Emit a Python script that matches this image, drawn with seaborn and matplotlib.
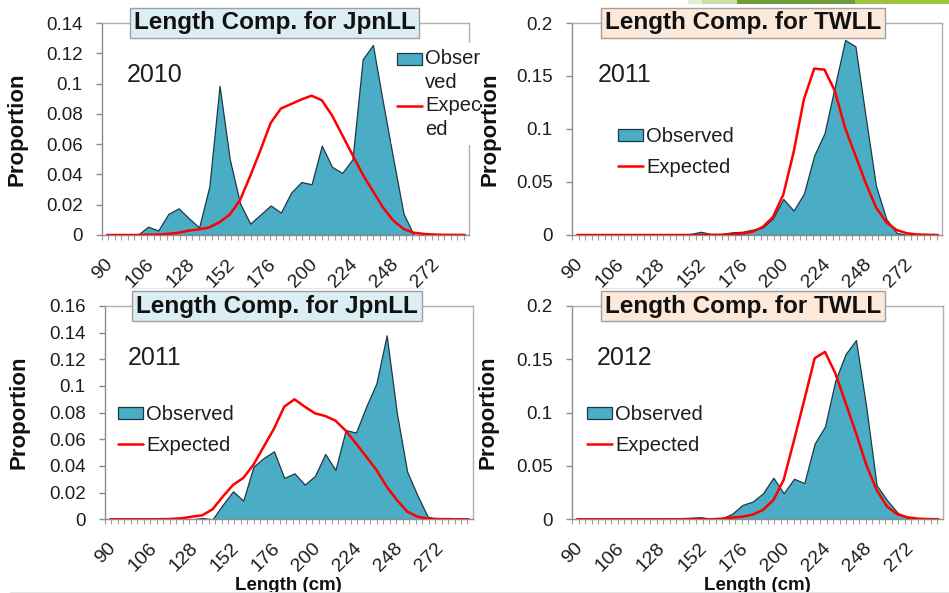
import matplotlib
matplotlib.use("Agg")
import numpy as np
import pandas as pd
import seaborn as sns
import matplotlib.pyplot as plt
from matplotlib.patches import Patch, Rectangle
from matplotlib.lines import Line2D
from matplotlib.ticker import FuncFormatter
from matplotlib.transforms import ScaledTranslation
from matplotlib.legend_handler import HandlerBase

# ---- data: proportion at length per bin (36 bins), tick labels every 4th bin ----
tick_labels = ["90", "106", "128", "152", "176", "200", "224", "248", "272"]
label_step = 4

jpn_2010_obs = [0, 0, 0, 0, 0.0055, 0.003, 0.014, 0.0176, 0.011, 0.005,
                0.032, 0.0985, 0.050, 0.021, 0.0075, 0.0135, 0.0195, 0.0148, 0.028, 0.035,
                0.0335, 0.059, 0.045, 0.041, 0.050, 0.116, 0.1255, 0.087, 0.050, 0.014,
                0, 0, 0, 0, 0, 0]
jpn_2010_exp = [0, 0, 0, 0, 0.0002, 0.0003, 0.0008, 0.0015, 0.0029, 0.0037,
                0.005, 0.0085, 0.0135, 0.023, 0.039, 0.056, 0.074, 0.0835, 0.0865, 0.0895,
                0.092, 0.089, 0.079, 0.066, 0.053, 0.040, 0.029, 0.018, 0.0095, 0.004,
                0.0015, 0.0007, 0.0003, 0.0001, 0.0001, 0]

tw_2011_obs = [0, 0, 0, 0, 0, 0, 0, 0, 0, 0,
               0.0006, 0.001, 0.003, 0.001, 0.001, 0.0025, 0.003, 0.005, 0.007, 0.0157,
               0.034, 0.023, 0.039, 0.075, 0.096, 0.140, 0.184, 0.178, 0.111, 0.046,
               0.015, 0.002, 0, 0, 0, 0]
tw_2011_exp = [0, 0, 0, 0, 0, 0, 0, 0, 0, 0,
               0, 0, 0, 0, 0.0002, 0.0006, 0.0015, 0.003, 0.0075, 0.017,
               0.038, 0.078, 0.128, 0.157, 0.156, 0.136, 0.101, 0.075, 0.049, 0.026,
               0.012, 0.0047, 0.0016, 0.0005, 0.0002, 0]

jpn_2011_obs = [0, 0, 0, 0, 0, 0.001, 0, 0, 0, 0.001,
                0, 0.011, 0.021, 0.014, 0.0395, 0.046, 0.051, 0.031, 0.0345, 0.026,
                0.0325, 0.049, 0.037, 0.067, 0.065, 0.0845, 0.102, 0.138, 0.0795, 0.0358,
                0.018, 0.002, 0, 0.001, 0, 0]
jpn_2011_exp = [0, 0, 0, 0, 0, 0, 0.0003, 0.0008, 0.002, 0.003,
                0.0075, 0.017, 0.0258, 0.031, 0.041, 0.0545, 0.068, 0.0845, 0.090, 0.0845,
                0.0795, 0.0775, 0.074, 0.0665, 0.057, 0.047, 0.037, 0.0245, 0.0145, 0.0058,
                0.002, 0.0005, 0.0002, 0.0001, 0, 0]

tw_2012_obs = [0, 0, 0, 0, 0, 0, 0, 0, 0, 0.0003,
               0.001, 0.0015, 0.002, 0.0003, 0.001, 0.005, 0.0134, 0.0166, 0.0244, 0.039,
               0.0244, 0.038, 0.034, 0.071, 0.087, 0.130, 0.155, 0.168, 0.105, 0.032,
               0.018, 0.0065, 0.001, 0, 0, 0]
tw_2012_exp = [0, 0, 0, 0, 0, 0, 0, 0, 0, 0,
               0, 0, 0, 0, 0.0006, 0.0016, 0.0025, 0.0044, 0.0088, 0.018,
               0.037, 0.074, 0.112, 0.151, 0.157, 0.137, 0.109, 0.081, 0.051, 0.0275,
               0.012, 0.0047, 0.0019, 0.0006, 0.0002, 0]

AREA = "#4BACC6"
EDGE = "#1d3a44"
RED = "#FF0000"
AXIS_GREY = "#8c8c8c"
FRAME_GREY = "#b0b0b0"
BLUE_BOX = "#DAEEF3"
PEACH_BOX = "#FDE9D9"
TEXT = "#1e1e1e"

sns.set_theme(style="white")
plt.rcParams["font.family"] = ["Liberation Sans", "DejaVu Sans"]

fig = plt.figure(figsize=(9.49, 5.93), dpi=100)
fig.patch.set_facecolor("white")

W, H = 949.0, 593.0


def px_axes(left, top, right, bottom):
    return fig.add_axes([left / W, 1 - bottom / H, (right - left) / W, (bottom - top) / H])


class RaisedHandle(HandlerBase):
    """Legend key drawn level with the first line of a wrapped label."""

    def __init__(self, kind, raise_pt):
        super().__init__()
        self.kind = kind
        self.raise_pt = raise_pt

    def create_artists(self, legend, orig_handle, xdescent, ydescent,
                       width, height, fontsize, trans):
        if self.kind == "patch":
            art = Rectangle((-xdescent, -ydescent + self.raise_pt), width, height,
                            facecolor=orig_handle.get_facecolor(),
                            edgecolor=orig_handle.get_edgecolor(),
                            linewidth=orig_handle.get_linewidth(), transform=trans)
        else:
            y = height / 2 - ydescent + self.raise_pt
            art = Line2D([-xdescent, -xdescent + width], [y, y],
                         color=orig_handle.get_color(),
                         linewidth=orig_handle.get_linewidth(), transform=trans)
        return [art]


panels = [
    dict(rect=(102, 23, 469, 235), obs=jpn_2010_obs, exp=jpn_2010_exp, ymax=0.14, ystep=0.02,
         title="Length Comp. for JpnLL", box=BLUE_BOX, tx=0.47, year="2010", yx=0.068,
         ylab_x=-0.203, legend="side", xlabel=False),
    dict(rect=(572, 23, 942, 235), obs=tw_2011_obs, exp=tw_2011_exp, ymax=0.2, ystep=0.05,
         title="Length Comp. for TWLL", box=PEACH_BOX, tx=0.462, year="2011", yx=0.07,
         ylab_x=-0.192, legend=(0.124, 0.51), xlabel=False),
    dict(rect=(105, 306, 472.7, 519.3), obs=jpn_2011_obs, exp=jpn_2011_exp, ymax=0.16, ystep=0.02,
         title="Length Comp. for JpnLL", box=BLUE_BOX, tx=0.468, year="2011", yx=0.0625,
         ylab_x=-0.204, legend=(0.035, 0.535), xlabel=True),
    dict(rect=(572, 306, 942.7, 519.3), obs=tw_2012_obs, exp=tw_2012_exp, ymax=0.2, ystep=0.05,
         title="Length Comp. for TWLL", box=PEACH_BOX, tx=0.462, year="2012", yx=0.068,
         ylab_x=-0.197, legend=(0.04, 0.535), xlabel=True),
]

fmt = FuncFormatter(lambda v, _: f"{round(v, 4):g}")
label_shift = ScaledTranslation(3 / 100, 0, fig.dpi_scale_trans)

for p in panels:
    ax = px_axes(*p["rect"])
    df = pd.DataFrame({"bin": np.arange(len(p["obs"])),
                       "Observed": p["obs"], "Expected": p["exp"]})

    ax.fill_between(df["bin"], df["Observed"], 0, facecolor=AREA, edgecolor=EDGE,
                    linewidth=0.9, zorder=2)
    sns.lineplot(data=df, x="bin", y="Expected", color=RED, linewidth=1.8,
                 ax=ax, zorder=3, legend=False)

    n = len(df)
    ax.set_xlim(-0.5, n - 0.6)
    ax.set_ylim(0, p["ymax"])
    ax.set_yticks(np.arange(0, p["ymax"] + 1e-9, p["ystep"]))
    ax.yaxis.set_major_formatter(fmt)

    ax.set_xticks(np.arange(0, n, label_step)[:len(tick_labels)])
    ax.set_xticklabels(tick_labels)
    ax.set_xticks(np.arange(-0.5, n - 0.6, 0.632), minor=True)

    for side, sp in ax.spines.items():
        sp.set_visible(True)
        sp.set_linewidth(1.0)
        sp.set_color(AXIS_GREY if side in ("left", "bottom") else FRAME_GREY)

    ax.tick_params(axis="y", which="major", left=True, length=4, width=1,
                   color=AXIS_GREY, pad=10, labelsize=13.5, labelcolor=TEXT)
    ax.tick_params(axis="x", which="major", bottom=True, length=0, pad=19,
                   labelsize=14, labelcolor=TEXT)
    ax.tick_params(axis="x", which="minor", bottom=True, length=3.5, width=0.8,
                   color="#a0a0a0")
    for lab in ax.get_xticklabels():
        lab.set_rotation(45)
        lab.set_ha("right")
        lab.set_va("center")
        lab.set_rotation_mode("anchor")
        lab.set_transform(lab.get_transform() + label_shift)

    ax.set_ylabel("Proportion", fontsize=16, fontweight="bold", color="#111111")
    ax.yaxis.set_label_coords(p["ylab_x"], 0.5)
    if p["xlabel"]:
        ax.set_xlabel("Length (cm)", fontsize=13.5, fontweight="bold", color="#111111")
        ax.xaxis.set_label_coords(0.5, -0.272)
    else:
        ax.set_xlabel("")

    ax.text(p["tx"], 1.0, p["title"], transform=ax.transAxes, ha="center", va="center",
            fontsize=17.5, fontweight="bold", color="#111111", zorder=6,
            bbox=dict(boxstyle="square,pad=0.16", facecolor=p["box"],
                      edgecolor="#a0a0a0", linewidth=1.0))
    ax.text(p["yx"], 0.755, p["year"], transform=ax.transAxes, ha="left", va="center",
            fontsize=18, color=TEXT)

    obs_key = Patch(facecolor=AREA, edgecolor=EDGE, linewidth=0.9)
    exp_key = Line2D([], [], color=RED, linewidth=1.8)
    if p["legend"] == "side":
        leg = ax.legend([obs_key, exp_key], ["Obser\nved", "Expec\ned"], loc="upper left",
                        bbox_to_anchor=(0.787, 0.905), fontsize=14.5, frameon=True,
                        handlelength=1.25, handleheight=0.55, handletextpad=0.15,
                        labelspacing=0.2, borderpad=0.3, borderaxespad=0,
                        handler_map={obs_key: RaisedHandle("patch", 8.5),
                                     exp_key: RaisedHandle("line", 8.5)})
        leg.get_frame().set_facecolor("white")
        leg.get_frame().set_edgecolor("none")
        leg.get_frame().set_alpha(1.0)
        for t in leg.get_texts():
            t.set_linespacing(1.33)
    else:
        leg = ax.legend([obs_key, exp_key], ["Observed", "Expected"], loc="upper left",
                        bbox_to_anchor=p["legend"], fontsize=14.5, frameon=False,
                        handlelength=1.25, handleheight=0.55, handletextpad=0.15,
                        labelspacing=0.58, borderpad=0, borderaxespad=0)
    leg.set_zorder(7)
    for t in leg.get_texts():
        t.set_color(TEXT)

# decorative colour bar along the top edge
for x0, x1, col in [(688, 702, "#e3eed3"), (702, 737, "#c9dea4"),
                    (737, 855, "#6f9b3c"), (855, 949, "#9cc43f")]:
    fig.add_artist(Rectangle((x0 / W, 1 - 3.5 / H), (x1 - x0) / W, 3.5 / H,
                             transform=fig.transFigure, facecolor=col,
                             edgecolor="none", zorder=10))

# faint frame lines of the slide layout
for (x0, x1, y) in [(130, 424, 288), (600, 888, 288), (10, 949, 592)]:
    fig.add_artist(Line2D([x0 / W, x1 / W], [1 - y / H, 1 - y / H],
                          transform=fig.transFigure, color="#e4e4e4", linewidth=0.8,
                          zorder=1))

fig.savefig("out.png", dpi=100, facecolor="white")
